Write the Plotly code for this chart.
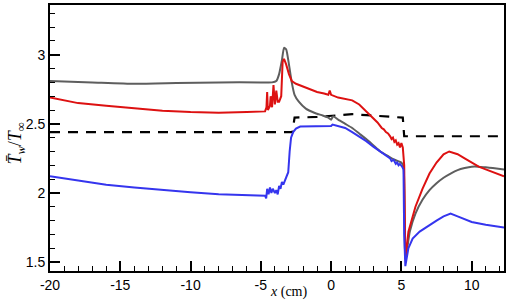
import plotly.graph_objects as go

# ---- data ----
gray_x = [-20, -17, -14, -11, -8, -5, -4.2, -3.9, -3.7, -3.5, -3.35, -3.2, -3.0, -2.8, -2.6, -2.3, -1.8, -1.2,
          -0.6, -0.2, 0.0, 0.15, 0.5, 1.0, 1.5, 2.0, 2.5, 3.0, 3.5, 4.0, 4.5, 5.0, 5.15, 5.25, 5.3, 5.6, 6.0,
          6.5, 7.0, 7.5, 8.0, 8.5, 9.0, 9.5, 10.0, 10.5, 11.0, 11.5, 12.3]
gray_y = [2.81, 2.80, 2.79, 2.795, 2.80, 2.80, 2.80, 2.81, 2.86, 2.96, 3.05, 3.04, 2.93, 2.80, 2.71, 2.66, 2.61, 2.58,
          2.56, 2.545, 2.53, 2.555, 2.53, 2.50, 2.47, 2.43, 2.39, 2.345, 2.30, 2.27, 2.24, 2.22, 2.19, 1.60, 1.53, 1.72, 1.85,
          1.95, 2.02, 2.07, 2.11, 2.14, 2.165, 2.18, 2.19, 2.19, 2.185, 2.18, 2.17]

red_x = [-20, -19, -18, -16, -14, -12, -10, -8, -6, -4.7, -4.6, -4.55, -4.5, -4.35, -4.3, -4.2, -4.1, -4.0, -3.9,
         -3.8, -3.7, -3.55, -3.45, -3.35, -3.2, -3.0, -2.8, -2.5, -2.0, -1.5, -1.0, -0.5, -0.2, -0.1, 0.0, 0.5,
         1.0, 1.5, 2.0, 2.5, 3.0, 3.3, 3.6, 3.75, 3.9, 4.05, 4.2, 4.3, 4.4, 4.5, 4.6, 4.7, 4.8, 4.9, 5.0, 5.1,
         5.2, 5.28, 5.5, 6.0, 6.5, 7.0, 7.5, 8.0, 8.4, 9.0, 9.5, 10.0, 10.5, 11.0, 11.5, 12.3]
red_y = [2.69, 2.67, 2.65, 2.63, 2.61, 2.595, 2.585, 2.58, 2.585, 2.59, 2.62, 2.73, 2.60, 2.63, 2.70, 2.62, 2.78, 2.64, 2.74,
         2.66, 2.66, 2.70, 2.95, 2.97, 2.93, 2.86, 2.81, 2.79, 2.77, 2.75, 2.73, 2.72, 2.71, 2.74, 2.71, 2.69,
         2.68, 2.67, 2.64, 2.59, 2.54, 2.51, 2.47, 2.46, 2.44, 2.43, 2.41, 2.39, 2.40, 2.37, 2.38, 2.35, 2.36, 2.33, 2.36, 2.33,
         2.20, 1.52, 1.72, 1.90, 2.03, 2.14, 2.22, 2.28, 2.30, 2.28, 2.25, 2.22, 2.19, 2.17, 2.15, 2.12]

blue_x = [-20, -18, -16, -14, -12, -10, -8, -6, -4.7, -4.62, -4.55, -4.45, -4.35, -4.25, -4.15, -4.0, -3.9, -3.8,
          -3.7, -3.6, -3.5, -3.4, -3.3, -3.2, -3.05, -2.95, -2.85, -2.7, -2.5, -2.2, -1.5, -1.0, -0.5, 0.0, 0.1,
          0.5, 1.0, 1.5, 2.0, 2.5, 3.0, 3.5, 4.0, 4.2, 4.3, 4.45, 4.6, 4.7, 4.8, 4.9, 5.05, 5.15, 5.2, 5.28, 5.5,
          5.8, 6.3, 7.0, 7.5, 8.0, 8.5, 9.0, 9.5, 10.0, 11.0, 12.3]
blue_y = [2.12, 2.09, 2.06, 2.04, 2.02, 2.005, 1.99, 1.985, 1.98, 1.96, 2.03, 1.99, 2.04, 2.00, 2.03, 2.00, 2.02, 1.99,
          2.05, 2.03, 2.08, 2.06, 2.09, 2.12, 2.15, 2.30, 2.40, 2.44, 2.465, 2.48, 2.48, 2.485, 2.48, 2.485, 2.495,
          2.485, 2.47, 2.44, 2.41, 2.375, 2.335, 2.30, 2.26, 2.25, 2.23, 2.24, 2.21, 2.22, 2.20, 2.21, 2.19, 2.17, 1.70, 1.47, 1.60,
          1.67, 1.72, 1.77, 1.80, 1.83, 1.85, 1.83, 1.81, 1.79, 1.77, 1.75]

dash_x = [-20, -2.75, -2.6, -1.0, 1.5, 3.0, 5.1, 5.2, 12.3]
dash_y = [2.44, 2.44, 2.545, 2.55, 2.57, 2.56, 2.545, 2.41, 2.41]

x_ticks = [-20, -15, -10, -5, 0, 5, 10]
y_ticks = [1.5, 2, 2.5, 3]

fig = go.Figure()
fig.add_trace(go.Scatter(x=dash_x, y=dash_y, mode="lines",
                         line=dict(color="black", width=2.2, dash="10px,8px")))
fig.add_trace(go.Scatter(x=gray_x, y=gray_y, mode="lines",
                         line=dict(color="#5e5e5e", width=2, shape="spline", smoothing=0.5)))
fig.add_trace(go.Scatter(x=red_x, y=red_y, mode="lines",
                         line=dict(color="#dd1111", width=2)))
fig.add_trace(go.Scatter(x=blue_x, y=blue_y, mode="lines",
                         line=dict(color="#3535ee", width=2)))

axis_common = dict(showgrid=False, zeroline=False, showline=True, linecolor="black", linewidth=2,
                   mirror=True, ticks="inside", ticklen=10, tickwidth=2, tickcolor="black",
                   tickfont=dict(family="Liberation Sans, Arial", size=14, color="black"))

fig.update_xaxes(range=[-20, 12.3], tickvals=x_ticks, ticktext=[str(v) for v in x_ticks],
                 minor=dict(ticks="inside", ticklen=5, tickwidth=1, tickcolor="black", dtick=1, tick0=0),
                 **axis_common)
fig.update_yaxes(range=[1.435, 3.36], tickvals=y_ticks, ticktext=["1.5", "2", "2.5", "3"],
                 minor=dict(ticks="inside", ticklen=5, tickwidth=1, tickcolor="black", dtick=0.1, tick0=0),
                 **axis_common)

fig.update_layout(
    width=509, height=302, showlegend=False,
    margin=dict(l=50, r=3, t=3, b=31),
    plot_bgcolor="white", paper_bgcolor="white",
    annotations=[
        dict(text="<i>x</i> (cm)", x=0.525, y=-0.1157, xref="paper", yref="paper", yanchor="bottom",
             showarrow=False, font=dict(family="Liberation Serif, Times New Roman", size=14, color="black"),
             xanchor="center"),
        dict(text="<i>T\u0304</i><sub><i>w</i></sub>/<i>T</i><sub>\u221e</sub>", x=-0.103, y=0.478,
             xref="paper", yref="paper", textangle=-90, showarrow=False,
             font=dict(family="Liberation Serif, Times New Roman", size=18, color="black"),
             xanchor="left", yanchor="middle"),
    ],
)

fig.write_html("out.html")
